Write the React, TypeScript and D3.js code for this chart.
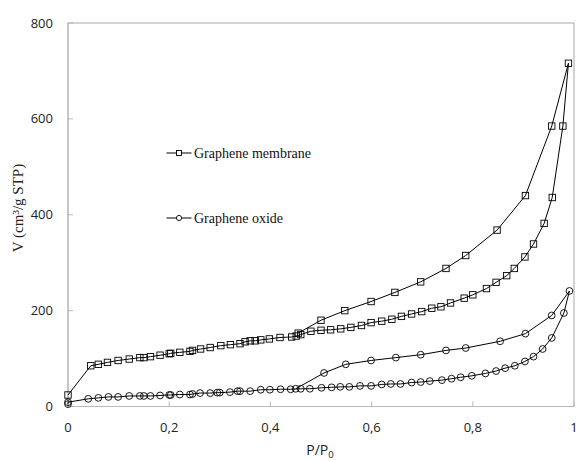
import React from 'react';
import * as d3 from 'd3';

// Graphene membrane: adsorption branch (P/P0, V)
const membraneAds: [number, number][] = [
  [0, 24], [0.045, 85], [0.06, 88], [0.078, 92], [0.099, 96], [0.121, 99],
  [0.142, 102], [0.15, 102], [0.163, 104], [0.182, 107], [0.2, 110], [0.203, 111],
  [0.221, 113], [0.241, 115], [0.246, 117], [0.262, 120], [0.281, 123], [0.302, 127],
  [0.321, 129], [0.34, 131], [0.35, 135], [0.36, 137], [0.37, 137], [0.381, 139],
  [0.398, 141], [0.419, 144], [0.442, 145], [0.451, 147], [0.46, 150], [0.48, 157],
  [0.5, 159], [0.519, 160], [0.539, 162], [0.559, 165], [0.58, 169], [0.599, 175],
  [0.62, 178], [0.64, 182], [0.659, 188], [0.679, 193], [0.699, 198], [0.719, 205],
  [0.737, 208], [0.756, 216], [0.783, 226], [0.8, 233], [0.827, 246], [0.846, 259],
  [0.867, 273], [0.882, 288], [0.903, 312], [0.92, 339], [0.941, 382], [0.957, 436],
  [0.978, 585], [0.989, 716],
];
// Graphene membrane: desorption branch
const membraneDes: [number, number][] = [
  [0.989, 716], [0.956, 585], [0.904, 440], [0.848, 368], [0.786, 315], [0.747, 288],
  [0.697, 260], [0.646, 238], [0.599, 219], [0.547, 200], [0.5, 180], [0.455, 153],
];

// Graphene oxide: adsorption branch
const oxideAds: [number, number][] = [
  [0, 5], [0, 9], [0.04, 16], [0.06, 18], [0.08, 20], [0.099, 20], [0.121, 22],
  [0.142, 22], [0.15, 22], [0.163, 22], [0.182, 23], [0.2, 24], [0.203, 24],
  [0.221, 25], [0.241, 25], [0.246, 26], [0.261, 28], [0.281, 28], [0.295, 29],
  [0.3, 29], [0.32, 30], [0.335, 32], [0.34, 32], [0.36, 32], [0.381, 35],
  [0.399, 35], [0.42, 36], [0.44, 36], [0.46, 37], [0.478, 37], [0.501, 39],
  [0.521, 40], [0.538, 41], [0.556, 41], [0.577, 43], [0.599, 43], [0.62, 46],
  [0.638, 47], [0.657, 47], [0.679, 50], [0.697, 51], [0.715, 53], [0.739, 55],
  [0.758, 58], [0.776, 61], [0.798, 64], [0.825, 69], [0.846, 74], [0.864, 80],
  [0.883, 85], [0.903, 94], [0.92, 104], [0.938, 120], [0.956, 143], [0.98, 195],
  [0.991, 241],
];
// Graphene oxide: desorption branch
const oxideDes: [number, number][] = [
  [0.991, 241], [0.956, 190], [0.904, 152], [0.854, 136], [0.786, 122], [0.747, 117],
  [0.697, 108], [0.648, 102], [0.599, 96], [0.549, 88], [0.506, 70], [0.45, 37],
];

const xTicks = [0, 0.2, 0.4, 0.6, 0.8, 1];
const yTicks = [0, 200, 400, 600, 800];
const seriesNames = ['Graphene membrane', 'Graphene oxide'];

const W = 579;
const H = 461;
const left = 68;
const right = 574;
const top = 23;
const bottom = 406.5;

const tickFont = '"Open Sans", "Liberation Sans", sans-serif';
const serif = '"Liberation Serif", "DejaVu Serif", serif';

export default function App() {
  const x = d3.scaleLinear().domain([0, 1]).range([left, right]);
  const y = d3.scaleLinear().domain([0, 800]).range([bottom, top]);
  const line = d3
    .line<[number, number]>()
    .x(d => x(d[0]))
    .y(d => y(d[1]));

  const membrane = membraneAds.concat(membraneDes.slice(1));
  const oxide = oxideAds.concat(oxideDes.slice(1));
  const fmt = (v: number) => String(v).replace('.', ',');
  const axisColor = '#b9b9b9';

  return (
    <svg
      width={W}
      height={H}
      style={{ position: 'absolute', left: 0, top: 0, background: '#fff' }}
    >
      <rect x={0} y={0} width={W} height={H} fill="#fff" />
      {/* plot frame */}
      <rect
        x={left}
        y={top}
        width={right - left}
        height={bottom - top}
        fill="none"
        stroke="#a8a8a8"
        strokeWidth={1}
      />
      <line x1={left} x2={right} y1={bottom} y2={bottom} stroke={axisColor} />
      <line x1={left} x2={left} y1={top} y2={bottom} stroke={axisColor} />

      {xTicks.map(t => (
        <g key={'x' + t}>
          <line x1={x(t)} x2={x(t)} y1={bottom} y2={bottom - 5} stroke={axisColor} />
          <text
            x={x(t)}
            y={432}
            textAnchor="middle"
            fontFamily={tickFont}
            fontSize={13}
            fill="#222"
          >
            {fmt(t)}
          </text>
        </g>
      ))}
      {yTicks.map(t => (
        <g key={'y' + t}>
          <line x1={left} x2={left + 5} y1={y(t)} y2={y(t)} stroke={axisColor} />
          <text
            x={53}
            y={y(t) + 4.5}
            textAnchor="end"
            fontFamily={tickFont}
            fontSize={13}
            fill="#222"
          >
            {t}
          </text>
        </g>
      ))}

      <text x={320} y={455} textAnchor="middle" fontFamily={tickFont} fontSize={14} fill="#222">
        P/P
        <tspan fontSize={9.5} dy={2.5}>0</tspan>
      </text>
      <text
        transform="translate(23,208) rotate(-90)"
        textAnchor="middle"
        fontFamily={serif}
        fontSize={15}
        fill="#222"
      >
        V (cm³/g STP)
      </text>

      {/* series */}
      <path d={line(membrane) || ''} fill="none" stroke="#000" strokeWidth={1} />
      <path d={line(oxide) || ''} fill="none" stroke="#000" strokeWidth={1} />
      {membrane.map((d, i) => (
        <rect
          key={'m' + i}
          x={x(d[0]) - 3.2}
          y={y(d[1]) - 3.2}
          width={6.4}
          height={6.4}
          fill="none"
          stroke="#000"
          strokeWidth={0.9}
        />
      ))}
      {oxide.map((d, i) => (
        <circle
          key={'o' + i}
          cx={x(d[0])}
          cy={y(d[1])}
          r={3.4}
          fill="none"
          stroke="#000"
          strokeWidth={0.9}
        />
      ))}

      {/* legend */}
      <g>
        <line x1={166.5} x2={191.5} y1={153} y2={153} stroke="#000" />
        <rect x={176.5} y={150.5} width={5} height={5} fill="#fff" stroke="#000" strokeWidth={0.9} />
        <text x={194} y={158} fontFamily={serif} fontSize={14} fill="#111">
          {seriesNames[0]}
        </text>
        <line x1={166.5} x2={191.5} y1={218} y2={218} stroke="#000" />
        <circle cx={179} cy={218} r={2.6} fill="#fff" stroke="#000" strokeWidth={0.9} />
        <text x={194} y={223} fontFamily={serif} fontSize={14} fill="#111">
          {seriesNames[1]}
        </text>
      </g>
    </svg>
  );
}
